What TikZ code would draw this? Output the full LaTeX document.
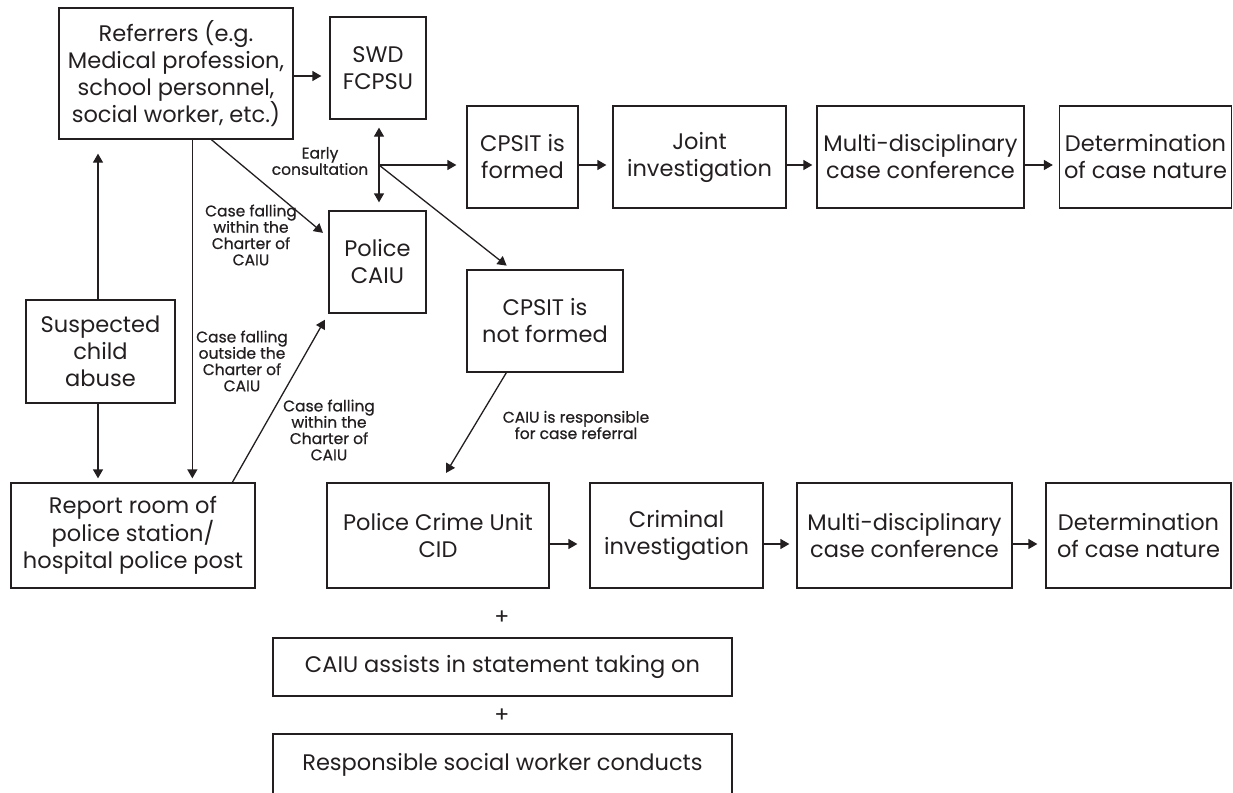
\documentclass[tikz,border=0pt]{standalone}
\usepackage{fontspec}
\setmainfont{Poppins}
\newfontfamily\labfont[FakeBold=0.6]{Poppins}
\usetikzlibrary{arrows.meta,calc}
\definecolor{ink}{HTML}{231F20}
\tikzset{
  box/.style={draw=ink, line width=1.3pt, align=center, inner sep=0pt, text=ink,
    font=\fontsize{22.5}{27}\selectfont},
  lab/.style={align=center, inner sep=0pt, text=ink, font=\labfont\fontsize{15.5}{16.3}\selectfont},
  plus/.style={inner sep=0pt, text=ink, font=\fontsize{22}{22}\selectfont},
  arr/.style={draw=ink, line width=1.3pt, -{Triangle[length=9pt,width=10pt]}},
  darr/.style={draw=ink, line width=1.3pt, {Triangle[length=9pt,width=10pt]}-{Triangle[length=9pt,width=10pt]}},
}
\begin{document}
\begin{tikzpicture}[x=1pt,y=-1pt]
\useasboundingbox (0,0) rectangle (1233,792);
\clip (0,0) rectangle (1233,792);
% boxes
\node[box, minimum width=234pt, minimum height=131pt] (ref) at (176,73.5) {Referrers (e.g.\\Medical profession,\\school personnel,\\social worker, etc.)};
\node[box, minimum width=96pt, minimum height=102pt] (swd) at (378,68) {SWD\\FCPSU};
\node[box, minimum width=97pt, minimum height=102pt] (caiu) at (377.5,262) {Police\\CAIU};
\node[box, minimum width=111pt, minimum height=102pt] (cf) at (522.5,157) {CPSIT is\\formed};
\node[box, minimum width=173pt, minimum height=102pt] (joint) at (699.5,157) {Joint\\investigation};
\node[box, minimum width=207pt, minimum height=102pt] (multi1) at (920.5,157) {Multi-disciplinary\\case conference};
\node[box, minimum width=172pt, minimum height=102pt] (det1) at (1145.5,157) {Determination\\of case nature};
\node[box, minimum width=156pt, minimum height=102pt] (cnf) at (545,321) {CPSIT is\\not formed};
\node[box, minimum width=149pt, minimum height=103pt] (sus) at (100.5,351.5) {Suspected\\child\\abuse};
\node[box, minimum width=244pt, minimum height=105pt] (rep) at (133,535.5) {Report room of\\police station/\\hospital police post};
\node[box, minimum width=222pt, minimum height=105pt] (pcu) at (438,535.5) {Police Crime Unit\\CID};
\node[box, minimum width=173pt, minimum height=105pt] (crim) at (676.5,535.5) {Criminal\\investigation};
\node[box, minimum width=215pt, minimum height=105pt] (multi2) at (904.5,535.5) {Multi-disciplinary\\case conference};
\node[box, minimum width=185pt, minimum height=105pt] (det2) at (1138.5,535.5) {Determination\\of case nature};
\node[box, minimum width=459pt, minimum height=58pt] (assist) at (502.5,667) {CAIU assists in statement taking on};
\node[box, minimum width=459pt, minimum height=62pt] (resp) at (502.5,765) {Responsible social worker conducts};
% plus signs
\node[plus] (p1) at (502,618) {+};
\node[plus] (p2) at (502,716) {+};
% labels
\node[lab] (early) at (320,161) {Early\\consultation};
\node[lab] (l1) at (251,235) {Case falling\\within the\\Charter of\\CAIU};
\node[lab] (l2) at (242,361) {Case falling\\outside the\\Charter of\\CAIU};
\node[lab] (l3) at (329,430) {Case falling\\within the\\Charter of\\CAIU};
\node[lab] (l4) at (576,425) {CAIU is responsible\\for case referral};
% connectors
\coordinate (j) at (379,165);
\draw[arr, shorten >=8pt] (ref.east |- 0,76) -- (swd.west |- 0,76);
\draw[darr, shorten >=8pt, shorten <=8pt] (swd.south -| j) -- (caiu.north -| j);
\draw[arr, shorten >=10pt] (j) -- (j -| cf.west);
\draw[arr, shorten >=6pt] (j) -- ($(cnf.north west)+(45,0)$);
\draw[arr, shorten >=6pt] (cf.east |- j) -- (joint.west |- j);
\draw[arr, shorten >=4pt] (joint.east |- j) -- (multi1.west |- j);
\draw[arr, shorten >=6pt] (multi1.east |- j) -- (det1.west |- j);
\draw[arr, shorten >=7pt] ($(ref.south west)+(153,0)$) -- ($(caiu.north west)+(0,27)$);
\draw[arr, shorten >=14pt] (sus.north -| 98,0) -- (ref.south -| 98,0);
\draw[arr, shorten >=4pt] (sus.south -| 98,0) -- (rep.north -| 98,0);
\draw[arr, shorten >=4pt] ($(ref.south west)+(134,0)$) -- ($(rep.north west)+(182,0)$);
\draw[arr, shorten >=7pt] ($(rep.north west)+(222,0)$) -- (caiu.south west);
\draw[arr, shorten >=11pt] ($(cnf.south west)+(40,0)$) -- ($(pcu.north west)+(114,0)$);
\draw[arr, shorten >=12pt] ($(pcu.east)+(0,8.5)$) -- ($(crim.west)+(0,8.5)$);
\draw[arr, shorten >=7pt] ($(crim.east)+(0,8.5)$) -- ($(multi2.west)+(0,8.5)$);
\draw[arr, shorten >=8pt] ($(multi2.east)+(0,8.5)$) -- ($(det2.west)+(0,8.5)$);
\end{tikzpicture}
\end{document}
